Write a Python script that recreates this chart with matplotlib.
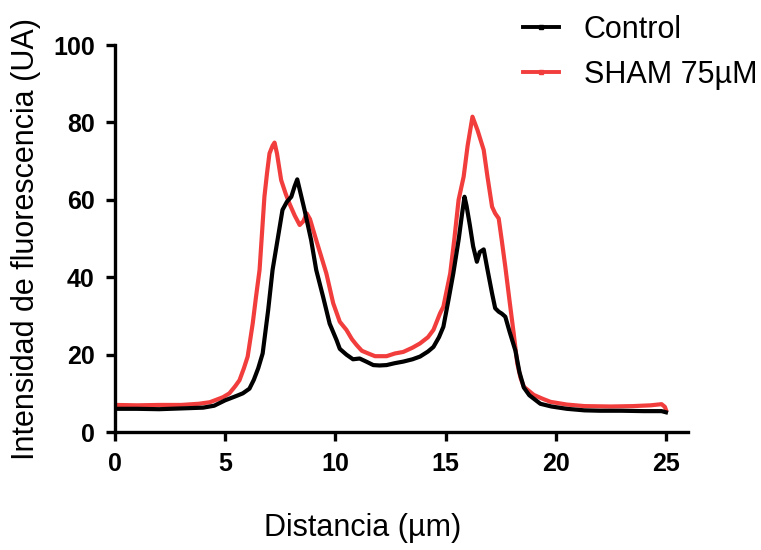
import matplotlib
matplotlib.use("Agg")
import matplotlib.pyplot as plt
from matplotlib.lines import Line2D

# perfil de fluorescencia
control_x = [0.0, 1.0, 2.0, 3.0, 4.0, 4.5, 5.0, 5.5, 5.8, 6.1, 6.3, 6.5, 6.7, 6.95,
             7.15, 7.4, 7.6, 7.8, 8.0, 8.15, 8.27, 8.45, 8.6, 8.9, 9.13, 9.44, 9.74,
             10.05, 10.2, 10.5, 10.8, 11.1, 11.4, 11.72, 12.0, 12.32, 12.7, 13.08,
             13.5, 13.84, 14.2, 14.45, 14.7, 14.9, 15.13, 15.35, 15.6, 15.75, 15.86,
             15.95, 16.1, 16.25, 16.42, 16.55, 16.73, 16.9, 17.11, 17.25, 17.41,
             17.55, 17.71, 17.9, 18.17, 18.35, 18.55, 18.8, 19.3, 19.8, 20.5, 21.3,
             22.0, 23.0, 24.0, 24.8, 25.0]
control_y = [6.0, 6.0, 5.9, 6.1, 6.3, 6.8, 8.2, 9.3, 10.0, 11.2, 13.5, 16.5, 20.3, 31.5,
             41.9, 50.5, 57.4, 59.5, 60.8, 63.5, 65.3, 61.0, 57.4, 49.6, 41.9, 35.0, 28.0,
             23.8, 21.5, 20.0, 18.8, 19.0, 18.2, 17.3, 17.2, 17.3, 17.8, 18.2,
             18.8, 19.5, 20.8, 22.0, 24.5, 27.2, 34.1, 41.0, 50.0, 56.5, 60.8,
             58.5, 53.5, 48.0, 44.0, 46.5, 47.2, 42.0, 35.8, 32.0, 31.1,
             30.6, 29.8, 26.0, 21.0, 15.5, 11.5, 9.5, 7.3, 6.6, 6.0, 5.6,
             5.5, 5.5, 5.4, 5.4, 5.1]

sham_x = [0.0, 1.0, 2.0, 3.0, 3.8, 4.3, 4.58, 4.9, 5.19, 5.45, 5.65, 5.85, 6.02, 6.25,
          6.4, 6.56, 6.78, 6.9, 7.01, 7.15, 7.24, 7.35, 7.54, 7.75, 7.92, 8.15, 8.38,
          8.55, 8.7, 8.85, 9.13, 9.35, 9.59, 9.9, 10.2, 10.5, 10.75, 10.96, 11.2,
          11.49, 11.8, 12.32, 12.7, 13.08, 13.5, 13.84, 14.2, 14.45, 14.75, 14.9,
          15.21, 15.4, 15.59, 15.82, 16.0, 16.22, 16.45, 16.73, 16.9, 17.11, 17.25,
          17.41, 17.55, 17.71, 17.9, 18.09, 18.25, 18.4, 18.55, 19.0, 19.4, 19.76,
          20.5, 21.3, 22.5, 23.5, 24.3, 24.8, 24.95, 25.0]
sham_y = [7.0, 6.9, 7.0, 7.0, 7.3, 7.7, 8.3, 9.0, 10.0, 11.8, 13.4, 16.5, 19.5, 28.1,
          35.0, 41.9, 60.8, 67.0, 72.0, 74.0, 74.8, 72.0, 65.1, 61.5, 59.0, 56.0, 53.5,
          54.5, 56.5, 55.0, 49.6, 45.5, 41.0, 33.3, 28.5, 26.4, 24.0, 22.5, 21.0,
          20.3, 19.6, 19.6, 20.3, 20.7, 21.8, 22.9, 24.5, 26.4, 30.7, 32.4,
          41.0, 50.0, 60.0, 66.0, 74.0, 81.5, 78.0, 72.9, 66.0, 58.2, 56.5,
          55.2, 49.5, 42.7, 34.0, 25.5, 17.8, 14.0, 11.7, 9.6, 8.6, 7.8,
          7.1, 6.7, 6.6, 6.7, 6.9, 7.2, 6.5, 5.7]

x_ticks = [0, 5, 10, 15, 20, 25]
y_ticks = [0, 20, 40, 60, 80, 100]
labels = ["Control", "SHAM 75µM"]
colors = ["black", "#f23d3d"]

fig = plt.figure(figsize=(7.61, 5.5), dpi=100)
ax = fig.add_axes([0.1511, 0.2145, 0.753, 0.7035])

ax.plot(control_x, control_y, color=colors[0], lw=3.0, zorder=3, solid_joinstyle="round")
ax.plot(sham_x, sham_y, color=colors[1], lw=3.0, zorder=2, solid_joinstyle="round")

ax.set_xlim(0, 26)
ax.set_ylim(0, 100)
ax.set_xticks(x_ticks)
ax.set_yticks(y_ticks)

for side in ["top", "right"]:
    ax.spines[side].set_visible(False)
for side in ["left", "bottom"]:
    ax.spines[side].set_linewidth(2.4)
ax.tick_params(direction="out", length=6.5, width=2.4, pad=8)

for lab in ax.get_xticklabels() + ax.get_yticklabels():
    lab.set_fontfamily("Liberation Sans")
    lab.set_fontweight("bold")
    lab.set_fontsize(18)

label_font = dict(family="Liberation Sans", size=22)
ax.set_xlabel("Distancia (µm)", **label_font)
ax.xaxis.set_label_coords(0.432, -0.21)
ax.set_ylabel("Intensidad de fluorescencia (UA)", labelpad=9, **label_font)

handles = [Line2D([], [], color=c, lw=2.8, marker="s", markersize=2.5) for c in colors]
fig.legend(handles, labels, loc="upper left", bbox_to_anchor=(0.687, 0.973),
           frameon=False, borderpad=0, borderaxespad=0, handlelength=1.2,
           handletextpad=0.8, labelspacing=0.5,
           prop=dict(family="Liberation Sans", size=22))

fig.savefig("out.png", dpi=100)
